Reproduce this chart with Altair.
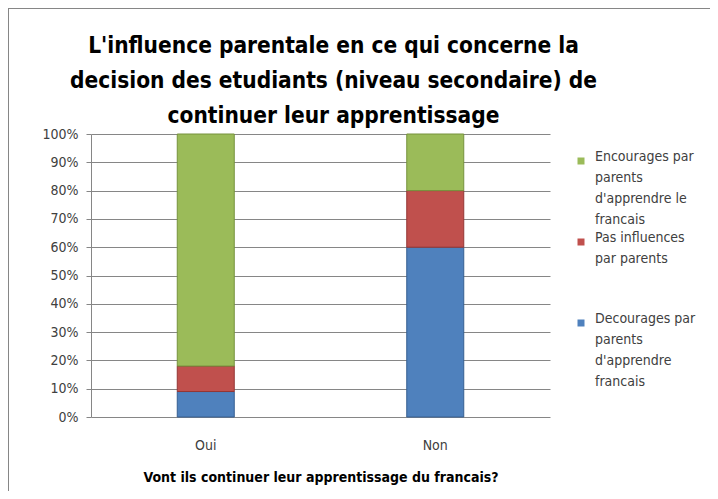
import json
import altair as alt
import pandas as pd

# ---- data ----
categories = ["Oui", "Non"]
series = [
    "Decourages par parents d'apprendre francais",
    "Pas influences par parents",
    "Encourages par parents d'apprendre le francais",
]
stack_rank = [1, 2, 3]
values_oui = [9, 9, 82]
values_non = [60, 20, 20]

legend_order = [series[2], series[1], series[0]]
legend_colors = ["#9BBB59", "#C0504D", "#4F81BD"]
legend_strokes = ["#76923C", "#943634", "#365F91"]
legend_lines = {
    series[2]: ["Encourages par", "parents", "d'apprendre le", "francais"],
    series[1]: ["Pas influences", "par parents"],
    series[0]: ["Decourages par", "parents", "d'apprendre", "francais"],
}

title_lines = [
    "L'influence parentale en ce qui concerne la",
    "decision des etudiants (niveau secondaire) de",
    "continuer leur apprentissage",
]
x_title = "Vont ils continuer leur apprentissage du francais?"

rows = []
for cat, vals in zip(categories, [values_oui, values_non]):
    for s, r, v in zip(series, stack_rank, vals):
        rows.append({"cat": cat, "series": s, "rank": r, "value": v})
df = pd.DataFrame(rows)

label_expr = " : ".join(
    f"datum.label == {json.dumps(k)} ? {json.dumps(v)}" for k, v in legend_lines.items()
) + " : datum.label"

FONT = "DejaVu Sans Condensed, DejaVu Sans, sans-serif"

bars = alt.Chart(df).mark_bar(size=57, strokeWidth=1).encode(
    x=alt.X(
        "cat:N",
        sort=categories,
        axis=alt.Axis(
            title=x_title,
            labelAngle=0,
            domain=False,
            ticks=False,
            labelFont=FONT,
            labelFontSize=14,
            labelColor="#404040",
            labelPadding=21,
            titleFont=FONT,
            titleFontSize=14,
            titleFontWeight="bold",
            titleColor="#000000",
            titlePadding=18,
        ),
    ),
    y=alt.Y(
        "value:Q",
        stack="normalize",
        scale=alt.Scale(domain=[0, 1]),
        axis=alt.Axis(
            title=None,
            format=".0%",
            values=[i / 10 for i in range(11)],
            labelFont=FONT,
            labelFontSize=14,
            labelColor="#404040",
            labelPadding=8,
            tickSize=5,
            tickColor="#868686",
            domainColor="#868686",
            gridColor="#868686",
        ),
    ),
    color=alt.Color(
        "series:N",
        scale=alt.Scale(domain=legend_order, range=legend_colors),
        legend=alt.Legend(
            title=None,
            orient="none",
            legendX=483,
            legendY=20,
            padding=0,
            symbolType="square",
            symbolSize=49,
            symbolStrokeWidth=0,
            labelFont=FONT,
            labelFontSize=14,
            labelColor="#404040",
            labelBaseline="alphabetic",
            labelOffset=7,
            labelLimit=200,
            labelExpr=label_expr,
            gridAlign="all",
            rowPadding=4,
        ),
    ),
    stroke=alt.Stroke(
        "series:N",
        scale=alt.Scale(domain=legend_order, range=legend_strokes),
        legend=None,
    ),
    order=alt.Order("rank:Q", sort="ascending"),
)

border_data = pd.DataFrame({"b": [0]})
left_border = alt.Chart(border_data).mark_rule(color="#868686", strokeWidth=1).encode(
    x=alt.value(-82.5), y=alt.value(-125.5), y2=alt.value(360)
)
top_border = alt.Chart(border_data).mark_rule(color="#868686", strokeWidth=1).encode(
    x=alt.value(-83), x2=alt.value(620), y=alt.value(-125.5)
)

chart = alt.layer(bars, left_border, top_border).properties(
    width=459,
    height=283,
    padding={"left": 83, "top": 126, "right": 160, "bottom": 74},
    autosize=alt.AutoSizeParams(type="none"),
    title=alt.Title(
        title_lines,
        font=FONT,
        fontSize=22.5,
        fontWeight="bold",
        color="#000000",
        lineHeight=35,
        anchor="middle",
        dx=13,
        dy=127,
        offset=8,
    ),
).configure(
    background="white",
    style={"guide-label": {"lineHeight": 21}},
).configure_view(stroke=None)

chart.save("out.html", embed_options={"renderer": "svg", "actions": False})
